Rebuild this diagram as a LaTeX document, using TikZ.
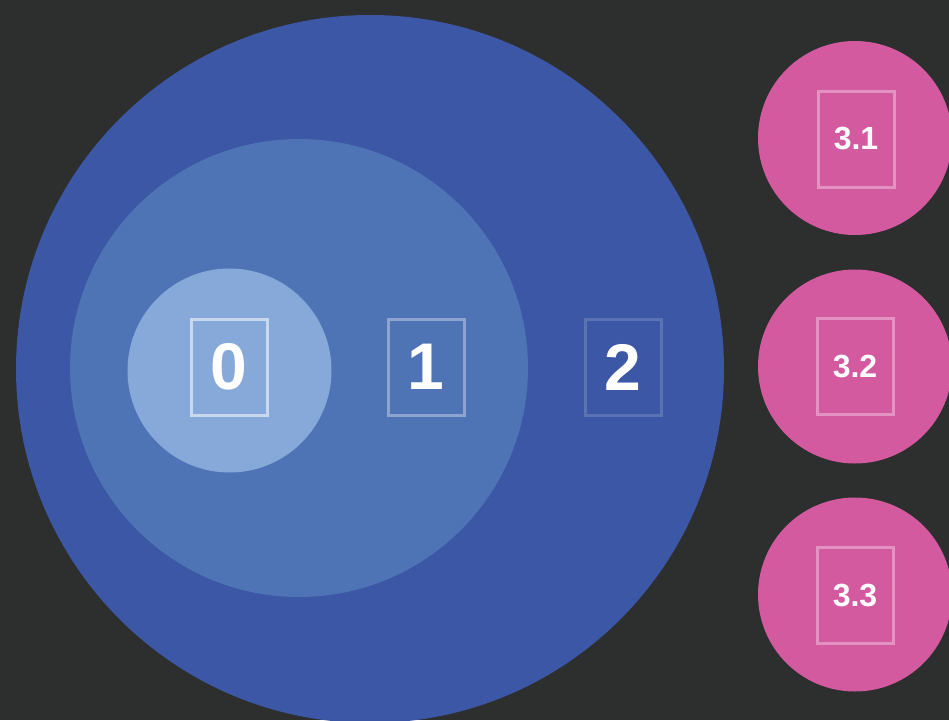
\documentclass[tikz,border=0pt]{standalone}
\usepackage{fontspec}
\setmainfont{Liberation Sans}
\definecolor{bgc}{HTML}{2D2E2E}
\definecolor{bigc}{HTML}{3C57A5}
\definecolor{midc}{HTML}{4F74B6}
\definecolor{smallc}{HTML}{86A9D9}
\definecolor{pinkc}{HTML}{D45AA0}
\tikzset{
  disc/.style={circle, inner sep=0pt, outer sep=0pt, draw=none, minimum size=#1},
  levelbox/.style={rectangle, inner sep=0pt, outer sep=0pt, draw=white, draw opacity=0.35,
    line width=3pt, minimum width=76pt, minimum height=96pt, text=white,
    font=\fontsize{66}{66}\selectfont\bfseries},
  subbox/.style={levelbox, font=\fontsize{32}{32}\selectfont\bfseries}
}
\begin{document}
\begin{tikzpicture}[x=1pt,y=-1pt]
\fill[bgc] (0,0) rectangle (949,720);
\useasboundingbox (0,0) rectangle (949,720);
\clip (0,0) rectangle (949,720);
\node[disc=708pt, fill=bigc] (big) at (370,369) {};
\node[disc=458pt, fill=midc] (mid) at (299,368) {};
\node[disc=204pt, fill=smallc] (small) at (229.5,370.5) {};
\node[disc=194pt, fill=pinkc] (p1) at (855,138) {};
\node[disc=194pt, fill=pinkc] (p2) at (855,366.5) {};
\node[disc=194pt, fill=pinkc] (p3) at (855,594.5) {};
\node[levelbox, draw opacity=0.55] (b0) at (229,367) {0};
\node[levelbox, draw opacity=0.35] (b1) at (426,367) {1};
\node[levelbox, draw opacity=0.16] (b2) at (623,367) {2};
\node[subbox] (b31) at (856,139) {3.1};
\node[subbox] (b32) at (855,366.5) {3.2};
\node[subbox] (b33) at (855,595.5) {3.3};
\end{tikzpicture}
\end{document}
